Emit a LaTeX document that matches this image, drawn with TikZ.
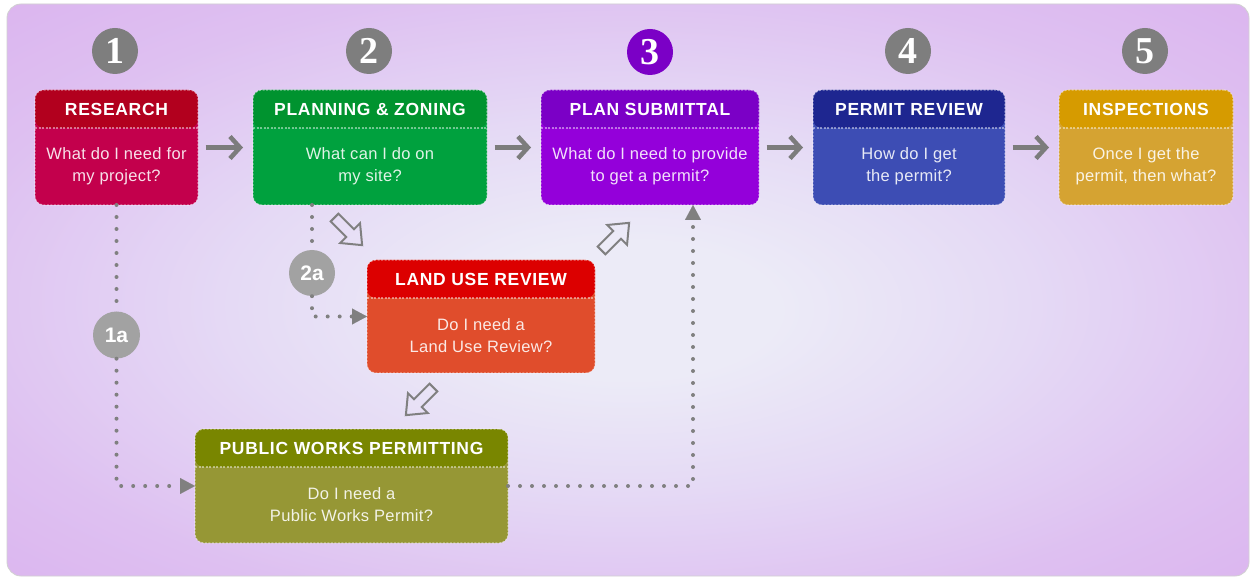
\documentclass[tikz,border=0pt]{standalone}
\usepackage{fontspec}
\setmainfont{Liberation Sans}
\newfontfamily\headfont[LetterSpace=4]{Liberation Sans}
\newfontfamily\bodyfont[LetterSpace=2]{Liberation Sans}
\newfontfamily\numfont{Liberation Serif}
\usetikzlibrary{arrows.meta,calc}

% card colours: header / body
\definecolor{resH}{HTML}{B2001E}\definecolor{resB}{HTML}{C3004C}
\definecolor{plaH}{HTML}{00932F}\definecolor{plaB}{HTML}{00A13E}
\definecolor{subH}{HTML}{7B00C6}\definecolor{subB}{HTML}{9400DA}
\definecolor{revH}{HTML}{1E2690}\definecolor{revB}{HTML}{3D4DB4}
\definecolor{insH}{HTML}{D69B00}\definecolor{insB}{HTML}{D5A332}
\definecolor{lurH}{HTML}{DC0000}\definecolor{lurB}{HTML}{E04D2C}
\definecolor{pwpH}{HTML}{798600}\definecolor{pwpB}{HTML}{969735}
% panel and connector greys
\definecolor{glow}{HTML}{ECEBF7}
\definecolor{glowmid}{HTML}{E5DAF5}
\definecolor{lilac}{HTML}{DEC0F1}
\definecolor{edge}{HTML}{DAB0EE}
\definecolor{edgedeep}{HTML}{D6A4EE}
\definecolor{numgrey}{HTML}{7E7E7E}
\definecolor{subgrey}{HTML}{A2A2A2}
\definecolor{linkgrey}{HTML}{808080}
\definecolor{arrowgrey}{HTML}{7C7C7C}

\pgfdeclareradialshading{panelglow}{\pgfpoint{0bp}{-2bp}}{%
  color(0bp)=(glow); color(6bp)=(glow); color(16bp)=(glowmid);
  color(28bp)=(lilac); color(40bp)=(edge); color(50bp)=(edgedeep)}

\tikzset{
  card/.style={rectangle, rounded corners=9pt, inner sep=0pt, outer sep=0pt,
    draw=white, draw opacity=0.45, line width=1.1pt, dash pattern=on 2pt off 1.5pt},
  divider/.style={draw=white, draw opacity=0.45, line width=1.1pt, dash pattern=on 2pt off 1.5pt},
  headtxt/.style={inner sep=0pt, text=white,
    font=\headfont\bfseries\fontsize{17.5}{20}\selectfont},
  bodytxt/.style={inner sep=0pt, align=center, text=white, text opacity=0.88,
    font=\bodyfont\fontsize{16.5}{22}\selectfont},
  numcirc/.style={circle, fill=numgrey, minimum size=46pt, inner sep=0pt,
    text=white, font=\numfont\bfseries\fontsize{38}{38}\selectfont},
  subcirc/.style={circle, fill=subgrey, minimum size=46pt, inner sep=0pt,
    text=white, font=\bfseries\fontsize{21}{21}\selectfont},
  steparrow/.style={draw=arrowgrey, line width=4.5pt,
    -{Straight Barb[length=10pt,width=22pt]}, shorten <=7.5pt, shorten >=10pt},
  dots/.style={draw=linkgrey, line width=4pt, line cap=round,
    dash pattern=on 0pt off 12pt},
  tri/.style={-{Triangle[length=15pt,width=16pt,line width=0.1pt]}},
  hollowarrow/.style={draw=linkgrey, line width=2pt, line join=miter},
  blockarrow/.pic={\draw[hollowarrow] (-19,-5.5) -- (3,-5.5) -- (3,-14) -- (20,0)
    -- (3,14) -- (3,5.5) -- (-19,5.5) -- cycle;}
}

% #1 name, #2 centre x, #3 top y, #4 width, #5 height,
% #6 header colour, #7 body colour, #8 title, #9 question
\newcommand\stepcard[9]{%
  \node[card, minimum width=#4pt, minimum height=#5pt, fill=#7, anchor=north,
    path picture={\fill[#6] ([yshift=2pt]path picture bounding box.north west)
      rectangle ([yshift=-38pt]path picture bounding box.north east);}]
    (#1) at (#2,#3) {};
  \draw[divider] ([yshift=-38pt]#1.north west) -- ([yshift=-38pt]#1.north east);
  \node[headtxt] (#1-title) at ([yshift=-19pt]#1.north) {#8};
  \node[bodytxt] (#1-text) at ($([yshift=-38pt]#1.north)!0.5!(#1.south)$) {#9};
}

\begin{document}
\begin{tikzpicture}[x=1pt, y=-1pt]
  % page and panel
  \fill[white] (0,0) rectangle (1251,577);
  \useasboundingbox (0,0) rectangle (1251,577);
  \shade[shading=panelglow, rounded corners=14pt] (7,4) rectangle (1249,576);
  \draw[draw=black!18, line width=0.8pt, rounded corners=14pt] (7,4) rectangle (1249,576);

  % the five main steps
  \stepcard{research}{116.5}{90}{163}{115}{resH}{resB}{RESEARCH}{What do I need for\\my project?}
  \stepcard{planning}{370}{90}{234}{115}{plaH}{plaB}{PLANNING \& ZONING}{What can I do on\\my site?}
  \stepcard{submittal}{650}{90}{218}{115}{subH}{subB}{PLAN SUBMITTAL}{What do I need to provide\\to get a permit?}
  \stepcard{review}{909}{90}{192}{115}{revH}{revB}{PERMIT REVIEW}{How do I get\\the permit?}
  \stepcard{inspections}{1146}{90}{174}{115}{insH}{insB}{INSPECTIONS}{Once I get the\\permit, then what?}

  % side steps
  \stepcard{landuse}{481}{260}{228}{113}{lurH}{lurB}{LAND USE REVIEW}{Do I need a\\Land Use Review?}
  \stepcard{publicworks}{351.5}{429}{313}{114}{pwpH}{pwpB}{PUBLIC WORKS PERMITTING}{Do I need a\\Public Works Permit?}

  % step numbers
  \node[numcirc] (n1) at (115,51) {1};
  \node[numcirc] (n2) at (369,51) {2};
  \node[numcirc, fill=subH] (n3) at (650,52) {3};
  \node[numcirc] (n4) at (908,51) {4};
  \node[numcirc] (n5) at (1145,51) {5};
  \node[subcirc] (n2a) at (312,273) {2a};
  \node[subcirc, minimum size=47pt] (n1a) at (116.5,335) {1a};

  % main sequence
  \draw[steparrow] (research.east) -- (planning.west);
  \draw[steparrow] (planning.east) -- (submittal.west);
  \draw[steparrow] (submittal.east) -- (review.west);
  \draw[steparrow] (review.east) -- (inspections.west);

  % dotted side routes
  \draw[dots] (research.south) -- (n1a.north);
  \draw[dots, tri] (n1a.south) |- (publicworks.west);
  \draw[dots] (n2a.north |- planning.south) -- (n2a.north);
  \draw[dots, tri] (n2a.south) |- (landuse.west);
  \coordinate (subin) at ([xshift=43pt]submittal.south);
  \draw[dots, tri] (publicworks.east) -| (subin);

  % hollow block arrows
  \pic[rotate=-45] at (348,231) {blockarrow};
  \pic[rotate=45] at (615,237) {blockarrow};
  \pic[rotate=-135] at (420,401) {blockarrow};
\end{tikzpicture}
\end{document}
